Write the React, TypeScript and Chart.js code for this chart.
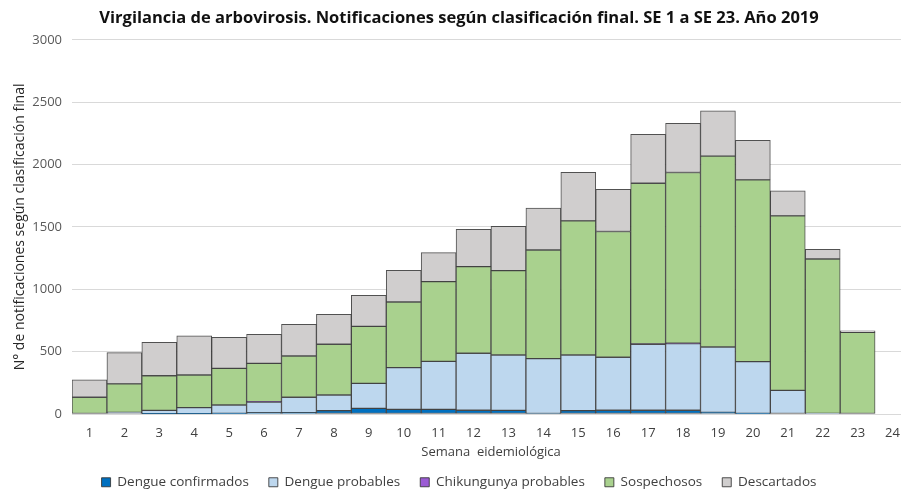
import { useEffect, useRef } from "react";
import { Chart, registerables } from "chart.js";

Chart.register(...registerables);

const weeks = ["1", "2", "3", "4", "5", "6", "7", "8", "9", "10", "11", "12", "13", "14", "15", "16", "17", "18", "19", "20", "21", "22", "23", "24"];

const dengueConfirmados = [0, 0, 3, 3, 5, 10, 11, 27, 45, 37, 37, 30, 29, 4, 27, 30, 30, 30, 13, 5, 0, 0, 0];
const dengueProbables = [0, 13, 26, 48, 67, 86, 123, 125, 201, 335, 385, 457, 444, 440, 446, 425, 529, 534, 524, 415, 190, 5, 0];
const chikungunyaProbables = [0, 0, 0, 0, 0, 3, 0, 0, 0, 0, 0, 0, 0, 0, 0, 0, 3, 3, 0, 0, 0, 0, 0];
const sospechosos = [134, 228, 278, 262, 294, 307, 331, 407, 457, 526, 639, 695, 677, 871, 1075, 1008, 1288, 1369, 1530, 1457, 1398, 1238, 655];
const descartados = [139, 251, 268, 313, 249, 233, 254, 241, 249, 254, 233, 299, 355, 335, 390, 339, 393, 395, 363, 318, 201, 78, 11];

const title = "Virgilancia de arbovirosis. Notificaciones según clasificación final. SE 1 a SE 23. Año 2019";
const yTitle = "N° de notificaciones según clasificación final";
const xTitle = "Semana  eidemiológica";

const FONT = "'Open Sans', 'DejaVu Sans', sans-serif";
const BORDER = "rgba(50,50,50,0.85)";

export default function App() {
  const ref = useRef<HTMLCanvasElement>(null);

  useEffect(() => {
    const mk = (label: string, data: number[], color: string) => ({
      label,
      data,
      backgroundColor: color,
      borderColor: BORDER,
      borderWidth: 1,
      borderSkipped: false as const,
      barPercentage: 1,
      categoryPercentage: 1,
    });
    const chart = new Chart(ref.current!, {
      type: "bar",
      data: {
        labels: weeks,
        datasets: [
          mk("Dengue confirmados", dengueConfirmados, "#0070C0"),
          mk("Dengue probables", dengueProbables, "#BDD7EE"),
          mk("Chikungunya probables", chikungunyaProbables, "#9B5BD4"),
          mk("Sospechosos", sospechosos, "#A9D18E"),
          mk("Descartados", descartados, "#D0CECE"),
        ],
      },
      options: {
        responsive: false,
        animation: false,
        devicePixelRatio: 1,
        layout: { padding: { left: 8, right: 10, top: 0, bottom: 0 } },
        plugins: {
          title: {
            display: true,
            text: title,
            color: "#111",
            font: { family: FONT, size: 16.5, weight: "bold" },
            padding: { top: 8, bottom: 12 },
          },
          legend: {
            position: "bottom",
            labels: {
              color: "#404040",
              font: { family: FONT, size: 13.5 },
              boxWidth: 9,
              boxHeight: 9,
              padding: 20,
            },
          },
          tooltip: { enabled: false },
        },
        scales: {
          x: {
            stacked: true,
            afterFit: (scale: any) => {
              scale.height = 41.5;
            },
            grid: { display: false },
            border: { display: false },
            ticks: { color: "#404040", font: { family: FONT, size: 13 }, padding: 3, maxRotation: 0, autoSkip: false },
            title: { display: true, text: xTitle, color: "#404040", font: { family: FONT, size: 13 }, padding: { top: 0, bottom: -4.3 } },
          },
          y: {
            stacked: true,
            min: 0,
            max: 3000,
            afterFit: (scale: any) => {
              scale.width = 64;
            },
            grid: { color: "#D9D9D9", drawTicks: false },
            border: { display: false },
            ticks: {
              stepSize: 500,
              color: "#595959",
              font: { family: FONT, size: 13 },
              padding: 10,
              callback: (v: any) => String(v),
            },
            title: { display: true, text: yTitle, color: "#262626", font: { family: FONT, size: 14 }, padding: { top: 4, bottom: 4 } },
          },
        },
      },
    });
    return () => chart.destroy();
  }, []);

  return (
    <div style={{ position: "fixed", left: 0, top: 0, width: 901, height: 492, overflow: "hidden", background: "#fff" }}>
      <canvas ref={ref} width={920} height={499} style={{ display: "block", width: 920, height: 499 }} />
    </div>
  );
}
